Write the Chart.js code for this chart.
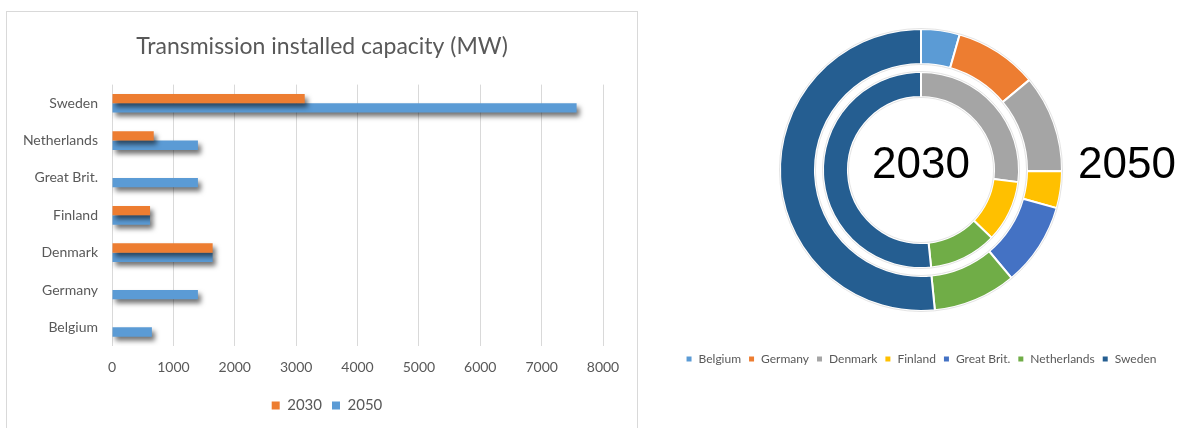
<!DOCTYPE html>
<html>
<head>
<meta charset="utf-8">
<script src="https://cdn.jsdelivr.net/npm/chart.js@4.4.1/dist/chart.umd.min.js"></script>
<style>
  html, body { margin: 0; padding: 0; background: #ffffff; }
  body { width: 1185px; height: 428px; position: relative; overflow: hidden; }
  #barBox { position: absolute; left: 6px; top: 11px; width: 630px; height: 420px; border: 1px solid #d9d9d9; }
  #barCanvas { position: absolute; left: 0; top: 0; }
  #pieBox { position: absolute; left: 655px; top: 0; width: 532px; height: 428px; }
</style>
</head>
<body>
<div id="barBox"><canvas id="barCanvas" width="630" height="416"></canvas></div>
<div id="pieBox"><canvas id="pieCanvas" width="532" height="428"></canvas></div>
<script>
// ---- data ----
const categories = ['Belgium', 'Germany', 'Denmark', 'Finland', 'Great Brit.', 'Netherlands', 'Sweden'];
const cap2030 = [0, 0, 1640, 620, 0, 680, 3140];
const cap2050 = [650, 1400, 1640, 620, 1400, 1400, 7570];
const seriesNames = ['2030', '2050'];
const xTicksMax = 8000;
const xTickStep = 1000;
const barTitle = 'Transmission installed capacity (MW)';
const countryColors = ['#5B9BD5', '#ED7D31', '#A5A5A5', '#FFC000', '#4472C4', '#70AD47', '#255E91'];

const txtGray = '#595959';
const fontFam = 'Lato, "Open Sans", sans-serif';

// ---- bar chart ----
const shadowPlugin = {
  id: 'barShadow',
  afterLayout(chart) {
    // centre title and legend under the whole panel rather than the padded area
    chart.legend.left += 16;
    chart.legend.right += 16;
    chart.titleBlock.left += 11;
    chart.titleBlock.right += 11;
  },
  beforeDatasetDraw(chart) {
    const ctx = chart.ctx;
    ctx.save();
    ctx.shadowColor = 'rgba(0,0,0,0.55)';
    ctx.shadowBlur = 5;
    ctx.shadowOffsetX = 3;
    ctx.shadowOffsetY = 4;
  },
  afterDatasetDraw(chart) {
    chart.ctx.restore();
  }
};

new Chart(document.getElementById('barCanvas'), {
  type: 'bar',
  data: {
    labels: categories,
    datasets: [
      { label: seriesNames[0], data: cap2030, backgroundColor: '#ED7D31', borderWidth: 0 },
      { label: seriesNames[1], data: cap2050, backgroundColor: '#5B9BD5', borderWidth: 0 }
    ]
  },
  options: {
    indexAxis: 'y',
    responsive: false,
    animation: false,
    categoryPercentage: 0.5,
    barPercentage: 1.0,
    layout: { padding: { left: 12, right: 34, top: 0, bottom: 5 } },
    scales: {
      x: {
        min: 0, max: xTicksMax,
        ticks: { stepSize: xTickStep, color: txtGray, font: { family: fontFam, size: 14 }, padding: 13, maxRotation: 0,
                 callback: v => String(v) },
        grid: { color: '#d9d9d9', drawTicks: false, lineWidth: 1 },
        border: { display: false },
        afterFit(s) { s.height = 42; }
      },
      y: {
        reverse: true,
        ticks: { color: txtGray, font: { family: fontFam, size: 14 }, padding: 14 },
        grid: { display: false, drawTicks: false },
        border: { display: false },
        afterFit(s) { s.width = 93; }
      }
    },
    plugins: {
      title: {
        display: true, text: barTitle, color: txtGray,
        font: { family: fontFam, size: 23, weight: 'normal' },
        padding: { top: 21, bottom: 24 }
      },
      legend: {
        position: 'bottom',
        labels: { color: txtGray, font: { family: fontFam, size: 15 }, boxWidth: 8, boxHeight: 8, padding: 10 }
      },
      tooltip: { enabled: false }
    }
  },
  plugins: [shadowPlugin]
});

// ---- doughnut ----
const ringDecor = {
  id: 'ringDecor',
  afterDatasetsDraw(chart) {
    const ctx = chart.ctx;
    const outer = chart.getDatasetMeta(0).data[0];
    const inner = chart.getDatasetMeta(2).data[0];
    const cx = outer.x, cy = outer.y;
    ctx.save();
    ctx.strokeStyle = '#e4e4e4';
    ctx.lineWidth = 1;
    [outer.outerRadius + 0.5, outer.innerRadius - 0.5, inner.outerRadius + 0.5, inner.innerRadius - 0.5].forEach(r => {
      ctx.beginPath(); ctx.arc(cx, cy, r, 0, Math.PI * 2); ctx.stroke();
    });
    ctx.fillStyle = '#000000';
    ctx.font = '44px "Liberation Sans", Arial, sans-serif';
    ctx.textBaseline = 'alphabetic';
    ctx.textAlign = 'center';
    ctx.fillText(seriesNames[0], cx, cy + 8);
    ctx.textAlign = 'left';
    ctx.fillText(seriesNames[1], cx + outer.outerRadius + 16, cy + 8);
    ctx.restore();
  }
};

new Chart(document.getElementById('pieCanvas'), {
  type: 'doughnut',
  data: {
    labels: categories,
    datasets: [
      { label: seriesNames[1], data: cap2050, backgroundColor: countryColors, borderColor: '#ffffff', borderWidth: 2, weight: 35 },
      { label: 'gap', data: [1], backgroundColor: 'rgba(0,0,0,0)', borderWidth: 0, weight: 8 },
      { label: seriesNames[0], data: cap2030, backgroundColor: countryColors, borderColor: '#ffffff', borderWidth: 2, weight: 25 }
    ]
  },
  options: {
    responsive: false,
    animation: false,
    radius: 141,
    cutout: '51.8%',
    layout: { padding: { top: 0, bottom: 53, left: 0, right: 0 } },
    plugins: {
      legend: {
        position: 'bottom',
        title: { display: true, text: '', font: { size: 5 }, padding: 0 },
        labels: { color: txtGray, font: { family: fontFam, size: 12 }, boxWidth: 7, boxHeight: 7, padding: 7 }
      },
      tooltip: { enabled: false }
    }
  },
  plugins: [ringDecor]
});
</script>
</body>
</html>
